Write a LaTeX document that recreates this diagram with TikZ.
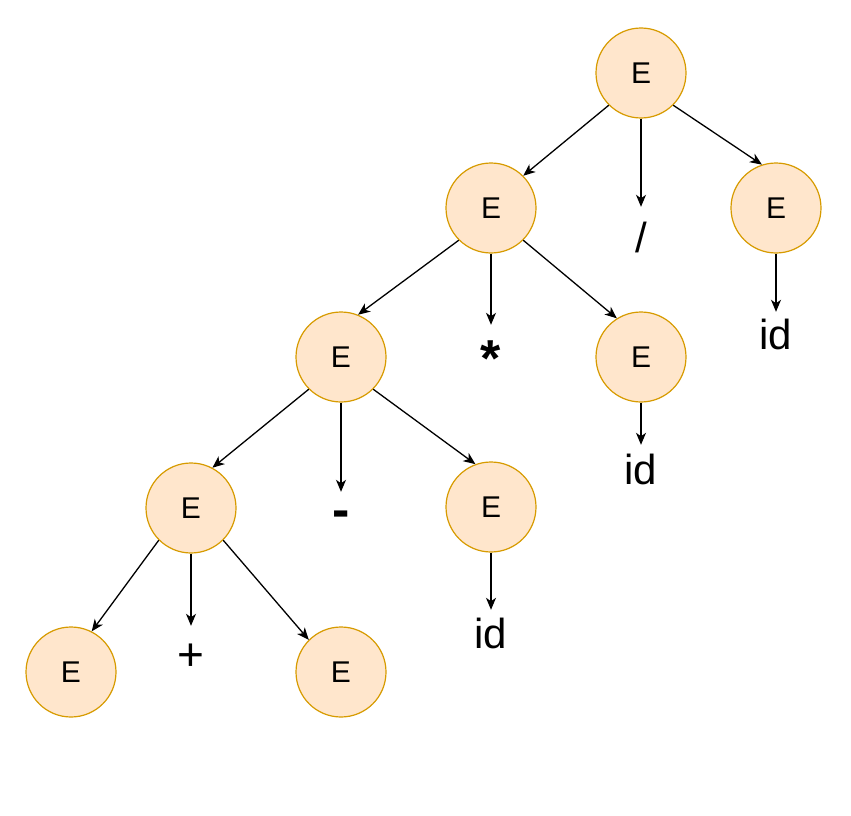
\documentclass[tikz,border=0pt]{standalone}
\usepackage{fontspec}
\setmainfont{Liberation Sans}
\usetikzlibrary{arrows.meta}
\definecolor{nodefill}{HTML}{FFE6CC}
\definecolor{nodeline}{HTML}{D79B00}
\tikzset{
  enode/.style={circle, draw=nodeline, fill=nodefill, line width=1.2pt,
    minimum size=90pt, inner sep=0pt, font=\fontsize{30}{36}\selectfont},
  tnode/.style={anchor=base, inner sep=0pt, text depth=0pt,
    font=\fontsize{42}{50}\selectfont},
  boldsym/.style={font=\fontsize{52}{60}\selectfont\bfseries},
  arr/.style={draw=black, line width=1.3pt,
    -{Stealth[length=12pt,width=10pt,inset=3.5pt]}},
}
\begin{document}
\begin{tikzpicture}[x=1pt,y=-1pt]
\useasboundingbox (0,0) rectangle (851,816);

% parse tree nodes
\node[enode] (r) at (641,73) {E};
\node[enode] (a) at (491,208) {E};
\node[tnode, text height=45pt] (slash) at (641,252) {/};
\node[enode] (b) at (776,208) {E};
\node[tnode, text height=37pt] (idb) at (776,349) {id};
\node[enode] (c) at (341,357) {E};
\node[tnode, boldsym, text height=51pt] (star) at (491,376) {*};
\node[enode] (d) at (641,357) {E};
\node[tnode, text height=39pt] (idd) at (641,484) {id};
\node[enode] (e) at (191,508) {E};
\node[tnode, boldsym, text height=35pt] (minus) at (341,527) {-};
\node[enode] (f) at (491,507) {E};
\node[tnode, text height=38pt] (idf) at (491,648) {id};
\node[enode] (g) at (71,672) {E};
\node[tnode, font=\fontsize{46}{54}\selectfont, text height=44pt] (plus) at (191,670) {+};
\node[enode] (h) at (341,672) {E};

% edges
\draw[arr] (r.-135) -- (a.45);
\draw[arr] (r.south) -- (slash.north);
\draw[arr] (r.-45) -- (b.108);
\draw[arr] (b.south) -- (idb.north);
\draw[arr] (a.-135) -- (c.68);
\draw[arr] (a.south) -- (star.north);
\draw[arr] (a.-45) -- (d.122);
\draw[arr] (d.south) -- (idd.north);
\draw[arr] (c.-135) -- (e.62);
\draw[arr] (c.south) -- (minus.north);
\draw[arr] (c.-45) -- (f.110);
\draw[arr] (f.south) -- (idf.north);
\draw[arr] (e.-135) -- (g.63);
\draw[arr] (e.south) -- (plus.north);
\draw[arr] (e.-45) -- (h.135);
\end{tikzpicture}
\end{document}
